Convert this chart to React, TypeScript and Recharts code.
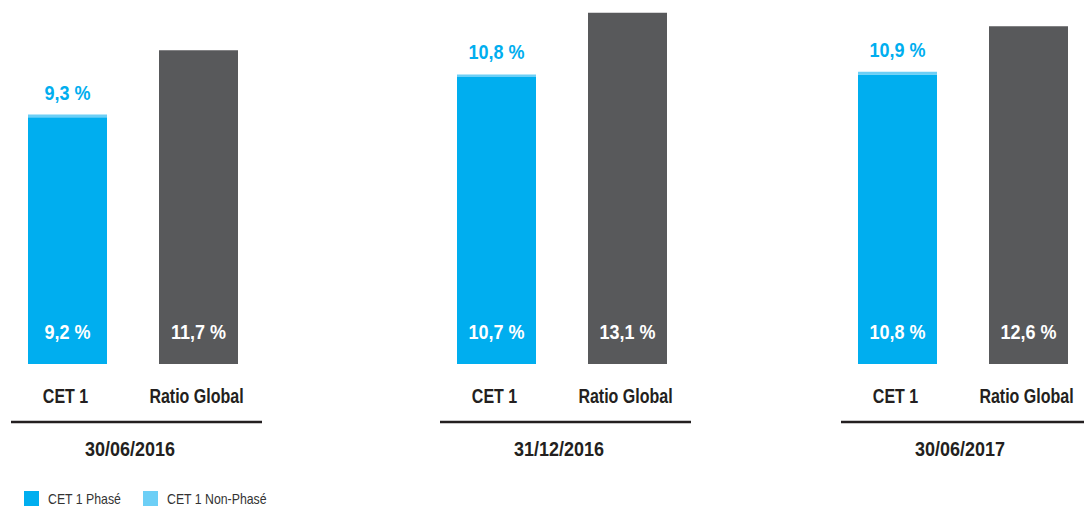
import { BarChart, Bar, XAxis, YAxis, LabelList, Legend } from 'recharts'

const periods = ['30/06/2016', '31/12/2016', '30/06/2017']
const categories = ['CET 1', 'Ratio Global']
const cet1Phase = [9.2, 10.7, 10.8]
const cet1Total = [9.3, 10.8, 10.9]
const ratioGlobal = [11.7, 13.1, 12.6]
const legendNames = ['CET 1 Phasé', 'CET 1 Non-Phasé']

const colors = {
  phase: '#00AEEF',
  nonPhase: '#6DCFF6',
  global: '#58595B',
  text: '#231F20'
}

const font = "'Liberation Sans', Arial, sans-serif"
const fmt = (v: any) => `${String(v).replace('.', ',')} %`

const rowsFor = (i: number) => [
  {
    name: categories[0],
    date: periods[i],
    phase: cet1Phase[i],
    nonPhase: Math.round((cet1Total[i] - cet1Phase[i]) * 10) / 10,
    total: cet1Total[i]
  },
  { name: categories[1], date: periods[i], global: ratioGlobal[i] }
]

// condensed bold text (no condensed face installed, so squeeze horizontally)
const CondText = ({ x, y, sx, fill, children }: any) => (
  <text
    transform={`translate(${x},${y}) scale(${sx},1)`}
    textAnchor="middle"
    fill={fill}
    fontSize={20}
    fontWeight="bold"
    fontFamily={font}
  >
    {children}
  </text>
)

const valueLabel = (fill: string, where: 'inside' | 'top') => (props: any) => {
  const { viewBox, value, offset } = props
  if (value == null || !viewBox) return null
  const cx = viewBox.x + viewBox.width / 2
  const by = where === 'inside' ? viewBox.y + viewBox.height - offset : viewBox.y - offset
  return (
    <CondText x={cx} y={by} sx={0.9} fill={fill}>
      {fmt(value)}
    </CondText>
  )
}

const CategoryTick = (props: any) => {
  const { x, y, payload } = props
  return (
    <CondText x={x - 2} y={y + 14.5} sx={0.8} fill={colors.text}>
      {payload.value}
    </CondText>
  )
}

const DateTick = (props: any) => {
  const { x, y, payload } = props
  return (
    <g>
      <line x1={x - 122} x2={x + 129} y1={y} y2={y} stroke={colors.text} strokeWidth={2.5} />
      <CondText x={x - 3} y={y + 34} sx={0.9} fill={colors.text}>
        {payload.value}
      </CondText>
    </g>
  )
}

const LegendContent = (props: any) => {
  const items = (props.payload || [])
    .filter((p: any) => legendNames.includes(p.value))
    .sort((a: any, b: any) => legendNames.indexOf(a.value) - legendNames.indexOf(b.value))
  return (
    <div style={{ display: 'flex', alignItems: 'center', height: 20 }}>
      {items.map((item: any, i: number) => (
        <div key={item.value} style={{ display: 'flex', alignItems: 'center', width: i === 0 ? 119 : 'auto' }}>
          <span style={{ display: 'inline-block', width: 15, height: 15, background: item.color }} />
          <span
            style={{
              display: 'inline-block',
              marginLeft: 9,
              fontSize: 15,
              lineHeight: '15px',
              color: '#333',
              fontFamily: font,
              transform: 'scale(0.82,1)',
              transformOrigin: 'left center',
              whiteSpace: 'nowrap'
            }}
          >
            {item.value}
          </span>
        </div>
      ))}
    </div>
  )
}

function Group({ index, left, showLegend }: { index: number; left: number; showLegend?: boolean }) {
  return (
    <div style={{ position: 'absolute', left, top: 0 }}>
      <BarChart width={270} height={506} data={rowsFor(index)} margin={{ top: 2, right: 8, bottom: 0, left: 0 }} barSize={79}>
        <YAxis hide domain={[0, 13.5]} />
        <XAxis
          dataKey="name"
          axisLine={false}
          tickLine={false}
          tickSize={0}
          tickMargin={24}
          height={58}
          interval={0}
          tick={<CategoryTick />}
        />
        <XAxis
          xAxisId="date"
          dataKey="date"
          allowDuplicatedCategory={false}
          axisLine={false}
          tickLine={false}
          tickSize={0}
          tickMargin={0}
          height={showLegend ? 64 : 84}
          interval={0}
          tick={<DateTick />}
        />
        <Bar dataKey="phase" stackId="a" fill={colors.phase} name={legendNames[0]} isAnimationActive={false}>
          <LabelList dataKey="phase" position="insideBottom" offset={25} content={valueLabel('#fff', 'inside')} />
        </Bar>
        <Bar dataKey="nonPhase" stackId="a" fill={colors.nonPhase} name={legendNames[1]} isAnimationActive={false}>
          <LabelList dataKey="total" position="top" offset={15} content={valueLabel(colors.phase, 'top')} />
        </Bar>
        <Bar dataKey="global" stackId="a" fill={colors.global} legendType="none" isAnimationActive={false}>
          <LabelList dataKey="global" position="insideBottom" offset={25} content={valueLabel('#fff', 'inside')} />
        </Bar>
        {showLegend && (
          <Legend
            verticalAlign="bottom"
            align="left"
            content={<LegendContent />}
            wrapperStyle={{ left: 22, bottom: -2, height: 20, width: 300 }}
          />
        )}
      </BarChart>
    </div>
  )
}

export default function App() {
  return (
    <div style={{ position: 'absolute', left: 0, top: 0, width: 1084, height: 506, overflow: 'hidden', background: '#fff' }}>
      <Group index={0} left={2} showLegend />
      <Group index={1} left={431} />
      <Group index={2} left={832} />
    </div>
  )
}
